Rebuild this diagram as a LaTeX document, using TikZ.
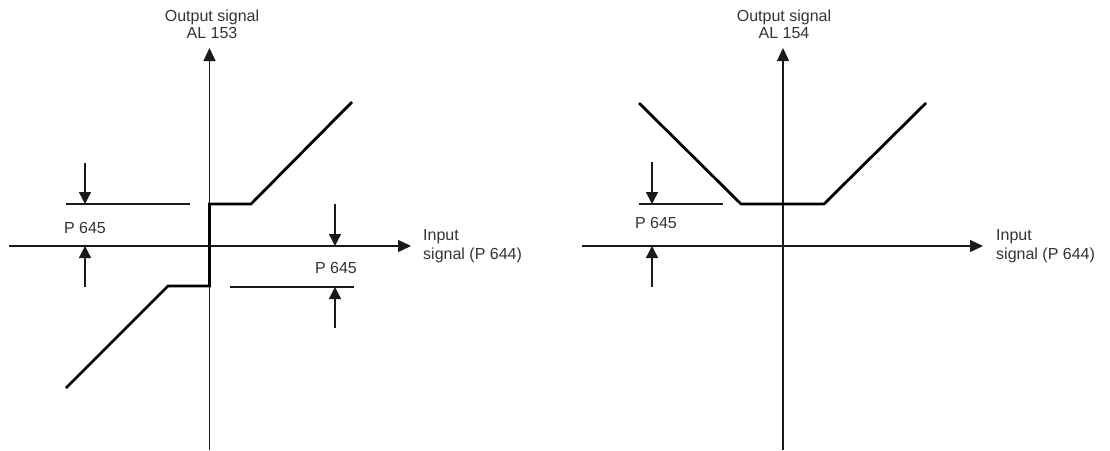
\documentclass[tikz,border=0pt]{standalone}
\usepackage{fontspec}
\setmainfont{Liberation Sans}
\usetikzlibrary{arrows.meta}
\definecolor{txt}{HTML}{333333}
\definecolor{ln}{HTML}{1a1a1a}
\tikzset{
  axisline/.style={draw=ln, line width=1.3pt, -{Triangle[length=13pt,width=12pt]}},
  refline/.style={draw=ln, line width=1.1pt},
  dimarrow/.style={draw=ln, line width=1.3pt, -{Triangle[length=12pt,width=12pt]}},
  curveline/.style={draw=black, line width=2.8pt, line join=miter},
  lbl/.style={text=txt, font=\fontsize{16}{19}\selectfont, inner sep=0pt},
  ttl/.style={text=txt, font=\fontsize{16}{17}\selectfont, inner sep=0pt, align=center},
  inlbl/.style={text=txt, font=\fontsize{16}{19}\selectfont, inner sep=0pt, align=left, anchor=west},
}
\begin{document}
\begin{tikzpicture}[x=1pt,y=-1pt]
\useasboundingbox (0,0) rectangle (1110,450);

% ---------- left chart ----------
\coordinate (Ayb) at (209.5,450);
\coordinate (Ayt) at (209.5,48);
\coordinate (Axl) at (9,246);
\coordinate (Axr) at (411,246);
\draw[axisline] (Ayb) -- (Ayt);
\draw[axisline] (Axl) -- (Axr);
\node[ttl] (Atitle) at (212,24.5) {Output signal\\AL 153};
\node[inlbl] (Ainput) at (423,246) {Input\\signal (P 644)};

\coordinate (Ac1) at (66,388);
\coordinate (Ac2) at (168,286);
\coordinate (Ac3) at (209.5,286);
\coordinate (Ac4) at (209.5,204);
\coordinate (Ac5) at (251,204);
\coordinate (Ac6) at (352,102);
\draw[curveline] (Ac1) -- (Ac2) -- (Ac3) -- (Ac4) -- (Ac5) -- (Ac6);

\coordinate (Ar1a) at (66,204);
\coordinate (Ar1b) at (190,204);
\draw[refline] (Ar1a) -- (Ar1b);
\coordinate (Ad1s) at (85,163);
\coordinate (Ad1e) at (85,204);
\draw[dimarrow] (Ad1s) -- (Ad1e);
\coordinate (Ad2s) at (85,287);
\coordinate (Ad2e) at (85,246);
\draw[dimarrow] (Ad2s) -- (Ad2e);
\node[lbl] (Ap1) at (85,228) {P 645};

\coordinate (Ad3s) at (335,204);
\coordinate (Ad3e) at (335,246);
\draw[dimarrow] (Ad3s) -- (Ad3e);
\coordinate (Ar2a) at (230,287);
\coordinate (Ar2b) at (354,287);
\draw[refline] (Ar2a) -- (Ar2b);
\coordinate (Ad4s) at (335,328);
\coordinate (Ad4e) at (335,287);
\draw[dimarrow] (Ad4s) -- (Ad4e);
\node[lbl] (Ap2) at (336,268) {P 645};

% ---------- right chart ----------
\coordinate (Byb) at (783,450);
\coordinate (Byt) at (783,48);
\coordinate (Bxl) at (582,246);
\coordinate (Bxr) at (983,246);
\draw[axisline] (Byb) -- (Byt);
\draw[axisline] (Bxl) -- (Bxr);
\node[ttl] (Btitle) at (784,24.5) {Output signal\\AL 154};
\node[inlbl] (Binput) at (996,246) {Input\\signal (P 644)};

\coordinate (Bc1) at (639,103);
\coordinate (Bc2) at (741,204);
\coordinate (Bc3) at (824,204);
\coordinate (Bc4) at (926,103);
\draw[curveline] (Bc1) -- (Bc2) -- (Bc3) -- (Bc4);

\coordinate (Br1a) at (639,204);
\coordinate (Br1b) at (723,204);
\draw[refline] (Br1a) -- (Br1b);
\coordinate (Bd1s) at (652,162);
\coordinate (Bd1e) at (652,204);
\draw[dimarrow] (Bd1s) -- (Bd1e);
\coordinate (Bd2s) at (652,287);
\coordinate (Bd2e) at (652,246);
\draw[dimarrow] (Bd2s) -- (Bd2e);
\node[lbl] (Bp1) at (656,223) {P 645};
\end{tikzpicture}
\end{document}
